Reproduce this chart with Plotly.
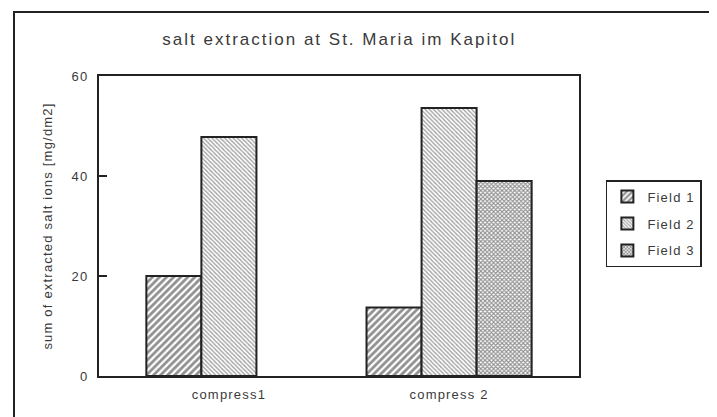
import plotly.graph_objects as go

categories = ["compress1", "compress 2"]
field1 = [20, 13.7]
field2 = [47.8, 53.6]
field3 = [None, 39]
series_names = ["Field 1", "Field 2", "Field 3"]
y_ticks = [0, 20, 40, 60]

ink = "#222222"
txt = "#3a3a3a"
fnt = "Liberation Sans, Arial, sans-serif"

patterns = [
    dict(shape="/", fgcolor="#222", bgcolor="white", size=5, solidity=0.55),
    dict(shape="\\", fgcolor="#444", bgcolor="white", size=3, solidity=0.45),
    dict(shape="x", fgcolor="#222", bgcolor="white", size=3, solidity=0.6),
]

fig = go.Figure()
for i, (name, vals, pat) in enumerate(zip(series_names, [field1, field2, field3], patterns)):
    fig.add_trace(go.Bar(
        x=categories, y=vals, name=name, legendgroup=f"g{i}",
        marker=dict(color="white", pattern=pat, line=dict(color=ink, width=2)),
    ))

fig.update_layout(
    width=717, height=417,
    margin=dict(l=91, r=146, t=68, b=49),
    paper_bgcolor="white", plot_bgcolor="white",
    barmode="group", bargap=0.25, bargroupgap=0,
    font=dict(family=fnt, color=txt, size=13),
    title=dict(text="salt extraction at St. Maria im Kapitol", x=0.462, xanchor="center",
               y=1 - 31 / 417, yanchor="middle", yref="container",
               font=dict(size=17, color=txt, family=fnt)),
    xaxis=dict(range=[-0.59, 1.59], showline=True, linecolor=ink, linewidth=2, mirror=True,
               ticks="", showgrid=False, tickfont=dict(size=13), ticklabelstandoff=5),
    yaxis=dict(range=[0, 60], tickvals=y_ticks, showline=True, linecolor=ink, linewidth=2,
               mirror=True, ticks="inside", ticklen=8, tickcolor=ink, tickwidth=2, showgrid=False,
               zeroline=False, ticklabelstandoff=6,
               title=dict(text="sum of extracted salt ions [mg/dm2]", standoff=18,
                          font=dict(size=13))),
    legend=dict(x=1.056, y=0.653, xanchor="left", yanchor="top", traceorder="grouped",
                bordercolor=ink, borderwidth=1.5, bgcolor="white",
                font=dict(size=13), itemwidth=30, tracegroupgap=7),
    shapes=[dict(type="rect", xref="paper", yref="paper",
                 x0=-85 / 480, x1=1.4, y0=-0.3, y1=(374 - 10) / 300,
                 line=dict(color=ink, width=2), fillcolor="rgba(0,0,0,0)", layer="below")],
)

# old-style wide letter spacing; re-plot so the legend box re-measures its text
post = (
    "var s=document.createElement('style');"
    "s.textContent='svg text{letter-spacing:1.2px} svg text.gtitle{letter-spacing:2px}';"
    "document.head.appendChild(s);"
    "var gd=document.getElementById('{plot_id}');"
    "var lay=JSON.parse(JSON.stringify(gd.layout));"
    "lay.legend.font.size=13.01;"
    "Plotly.newPlot(gd, gd.data, lay, gd._context);"
)

fig.write_html("out.html", post_script=post)
